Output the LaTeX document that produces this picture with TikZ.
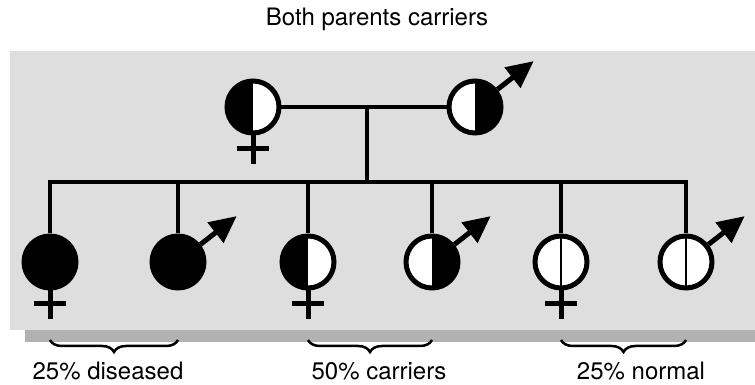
\documentclass[tikz,border=0pt]{standalone}
\usepackage{fontspec}
\setmainfont{TeX Gyre Heros}
\usetikzlibrary{arrows.meta,decorations.pathreplacing}

\begin{document}
\begin{tikzpicture}[x=1pt, y=1pt,
    person/.style={circle, draw, line width=5pt, minimum size=52pt, inner sep=0pt, fill=white},
    allblack/.style={person, fill=black},
    leftblack/.style={person, path picture={\fill[black] (path picture bounding box.north west) rectangle (path picture bounding box.south);}},
    rightblack/.style={person, path picture={\fill[black] (path picture bounding box.north) rectangle (path picture bounding box.south east);}},
    normal/.style={person, path picture={\draw[line width=1.5pt] (path picture bounding box.north) -- (path picture bounding box.south);}},
    pedline/.style={line width=4.5pt, line cap=rect},
    crossline/.style={line width=5pt},
    malearrow/.style={line width=5pt, -{Triangle[length=27pt, width=25pt]}},
    groupbrace/.style={line width=2.5pt, decorate, decoration={brace, mirror, amplitude=12pt}},
    lbl/.style={font=\fontsize{24}{28}\selectfont}]
    \useasboundingbox (0,0) rectangle (755,385);

    % Background
    \fill[black!13] (10,55) rectangle (755,334);
    \fill[black!30] (25,43) rectangle (755,55);

    % Title
    \node (title) [lbl] at (377,366) {Both parents carriers};

    % Parents
    \node (mother) [leftblack] at (253,278) {};
    \node (father) [rightblack] at (475,278) {};

    % Children
    \node (c1) [allblack] at (50,123) {};
    \node (c2) [allblack] at (178,123) {};
    \node (c3) [leftblack] at (308,123) {};
    \node (c4) [rightblack] at (432,123) {};
    \node (c5) [normal] at (561,123) {};
    \node (c6) [normal] at (686,123) {};

    % Lines
    \coordinate (mid) at (367,278);
    \coordinate (sib) at (367,203);
    \draw[pedline] (mother.east) -- (father.west);
    \draw[pedline] (mid) -- (sib);
    \draw[pedline] (c1 |- sib) -- (c6 |- sib);
    \foreach \c in {c1,c2,c3,c4,c5,c6}
        \draw[pedline, line cap=butt] (\c |- sib) -- (\c.north);

    % Sex symbols
    \foreach \f in {mother,c1,c3,c5} {
        \draw[crossline] (\f.south) -- ++(0,-29);
        \draw[crossline] ([shift={(-16,-13)}]\f.south) -- ++(32,0);
    }
    \foreach \m in {father,c2,c4,c6}
        \draw[malearrow] (\m.38) -- ++(38:46);

    % Braces
    \draw[groupbrace] (c1 |- 0,45) -- (c2 |- 0,45);
    \draw[groupbrace] (c3 |- 0,45) -- (c4 |- 0,45);
    \draw[groupbrace] (c5 |- 0,45) -- (c6 |- 0,45);

    % Labels
    \node (diseased) [lbl] at (108,14) {25\% diseased};
    \node (carriers) [lbl] at (379,14) {50\% carriers};
    \node (healthy) [lbl] at (641,14) {25\% normal};
\end{tikzpicture}
\end{document}
